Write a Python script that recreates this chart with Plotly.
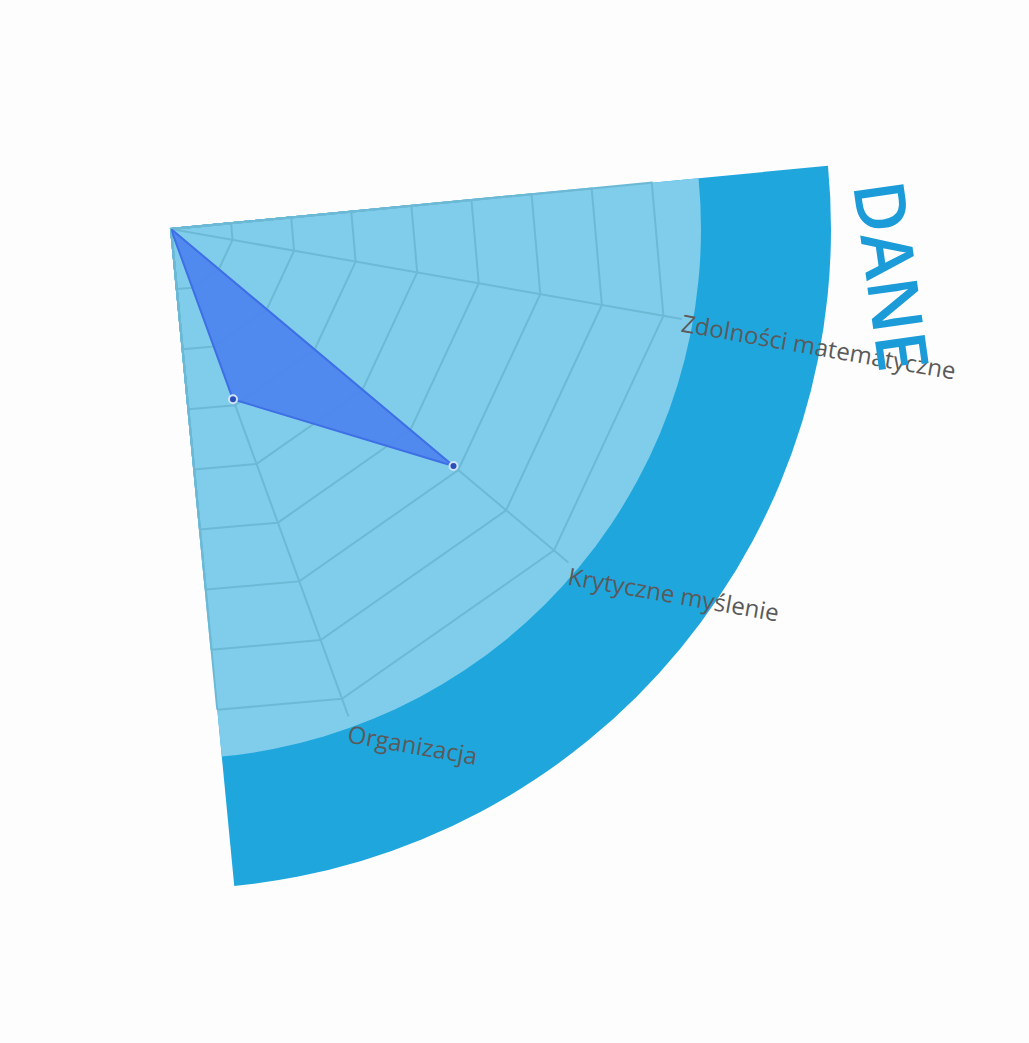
import math
import plotly.graph_objects as go

# ---- data ----
categories = ["Zdolności matematyczne", "Krytyczne myślenie", "Organizacja"]
hidden_categories = [" " * k for k in range(1, 10)]  # axes outside the visible sector
values = [0, 5.9, 2.9]
radial_ticks = [1, 2, 3, 4, 5, 6, 7, 8]
radial_max = 8.3
series_name = "DANE"

# ---- geometry / style ----
W, H = 1029, 1043
CX, CY = 171, 229
SECTOR = [275.5, 365.5]
R_OUT, R_LIGHT = 660, 530
R_RADAR = 500 * radial_max / 8
GRID = "#6cb9d6"


def domain_for(R):
    y1 = math.sin(math.radians(SECTOR[1]))
    y0 = math.sin(math.radians(SECTOR[0]))
    top = CY - y1 * R
    bottom = top + (y1 - y0) * R
    return dict(x=[CX / W, (CX + R) / W], y=[1 - bottom / H, 1 - top / H])


def plain_axes():
    return dict(
        radialaxis=dict(visible=False, showgrid=False, showline=False, showticklabels=False, ticks=""),
        angularaxis=dict(visible=False, showgrid=False, showline=False, showticklabels=False, ticks=""),
    )


fig = go.Figure()
fig.add_trace(go.Scatterpolar(r=[None], theta=[None], subplot="polar", showlegend=False, hoverinfo="skip"))
fig.add_trace(go.Scatterpolar(r=[None], theta=[None], subplot="polar2", showlegend=False, hoverinfo="skip"))

axis_categories = categories + hidden_categories
fig.add_trace(go.Scatterpolar(
    r=[None] * len(axis_categories), theta=axis_categories, subplot="polar3",
    mode="markers", showlegend=False, hoverinfo="skip",
))

closed_theta = categories + [categories[0]]
closed_r = values + [values[0]]
fig.add_trace(go.Scatterpolar(
    r=closed_r, theta=closed_theta, subplot="polar3", name=series_name,
    mode="lines+markers", fill="toself",
    fillcolor="rgba(78,134,238,0.95)",
    line=dict(color="#3f6fe6", width=2),
    marker=dict(size=8, color="#2b4fb8", line=dict(color="#cfe3fb", width=2)),
    showlegend=False,
))

fig.update_layout(
    width=W, height=H,
    margin=dict(l=0, r=0, t=0, b=0),
    paper_bgcolor="#fdfdfd",
    plot_bgcolor="#fdfdfd",
    polar=dict(domain=domain_for(R_OUT), sector=SECTOR, bgcolor="#1fa6dd", **plain_axes()),
    polar2=dict(domain=domain_for(R_LIGHT), sector=SECTOR, bgcolor="#7fcdea", **plain_axes()),
    polar3=dict(
        domain=domain_for(R_RADAR), sector=SECTOR, bgcolor="rgba(0,0,0,0)",
        gridshape="linear",
        radialaxis=dict(range=[0, radial_max], tickvals=radial_ticks, showticklabels=False,
                        showline=False, ticks="", gridcolor=GRID, gridwidth=1.5),
        angularaxis=dict(type="category", categoryorder="array", categoryarray=axis_categories,
                         direction="clockwise", rotation=350,
                         gridcolor=GRID, gridwidth=1.5, showline=False,
                         ticks="", tickangle=10,
                         tickfont=dict(size=24, color="#5a5a5a", family="Open Sans")),
    ),
    annotations=[dict(
        text=series_name, x=893 / W, y=1 - 275 / H, xref="paper", yref="paper",
        xanchor="center", yanchor="middle",
        showarrow=False, textangle=82,
        font=dict(size=70, color="#1b9bd7", family="Open Sans", weight=600),
    )],
)

fig.write_html("out.html")
